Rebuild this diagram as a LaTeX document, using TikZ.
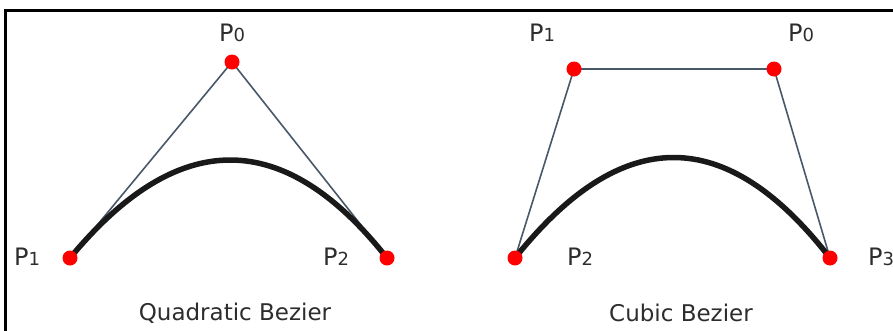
\documentclass[tikz,border=0pt]{standalone}
\usepackage{fontspec}
\setmainfont{DejaVu Sans}
\usetikzlibrary{calc}
\definecolor{ctrlgray}{RGB}{72,88,104}
\definecolor{txtgray}{RGB}{45,45,45}
\newcommand\plbl[1]{P{\fontsize{18}{18}\selectfont #1}}
\begin{document}
\begin{tikzpicture}[x=1pt,y=-1pt,
  ctrl/.style={draw=ctrlgray, line width=1.6pt},
  curve/.style={draw=black!90, line width=5.5pt, line cap=round},
  dot/.style={circle, fill=red, inner sep=0pt, minimum size=15pt},
  lbl/.style={font=\fontsize{24}{24}\selectfont, inner sep=0pt, text=txtgray},
  captxt/.style={font=\fontsize{23}{23}\selectfont, inner sep=0pt, text=txtgray}]
\useasboundingbox (0,0) rectangle (893,330);
\fill[white] (0,0) rectangle (893,330);
\draw[line width=2.5pt] (5.5,331) -- (5.5,10.5) -- (894,10.5);
% Quadratic
\coordinate (qa) at (70,258);
\coordinate (qb) at (232,62);
\coordinate (qc) at (387,258);
\draw[ctrl] (qa) -- (qb) -- (qc);
\draw[curve] (qa) .. controls ($(qa)!2/3!(qb)$) and ($(qc)!2/3!(qb)$) .. (qc);
\node[dot] (q0) at (qb) {};
\node[dot] (q1) at (qa) {};
\node[dot] (q2) at (qc) {};
\node[lbl] (lq0) at (232,33) {\plbl{0}};
\node[lbl] (lq1) at (27,257) {\plbl{1}};
\node[lbl] (lq2) at (336,257) {\plbl{2}};
\node[captxt] (tq) at (235,313) {Quadratic Bezier};
% Cubic
\coordinate (c2) at (515,258);
\coordinate (c1) at (574,69);
\coordinate (c0) at (774,69);
\coordinate (c3) at (830,258);
\draw[ctrl] (c2) -- (c1) -- (c0) -- (c3);
\draw[curve] (c2) .. controls (622,124) and (726,124) .. (c3);
\node[dot] (d1) at (c1) {};
\node[dot] (d0) at (c0) {};
\node[dot] (d2) at (c2) {};
\node[dot] (d3) at (c3) {};
\node[lbl] (lc1) at (542,33) {\plbl{1}};
\node[lbl] (lc0) at (801,33) {\plbl{0}};
\node[lbl] (lc2) at (580,257) {\plbl{2}};
\node[lbl, anchor=west] (lc3) at (868,257) {\plbl{3}};
\node[captxt] (tc) at (681,313) {Cubic Bezier};
\end{tikzpicture}
\end{document}
